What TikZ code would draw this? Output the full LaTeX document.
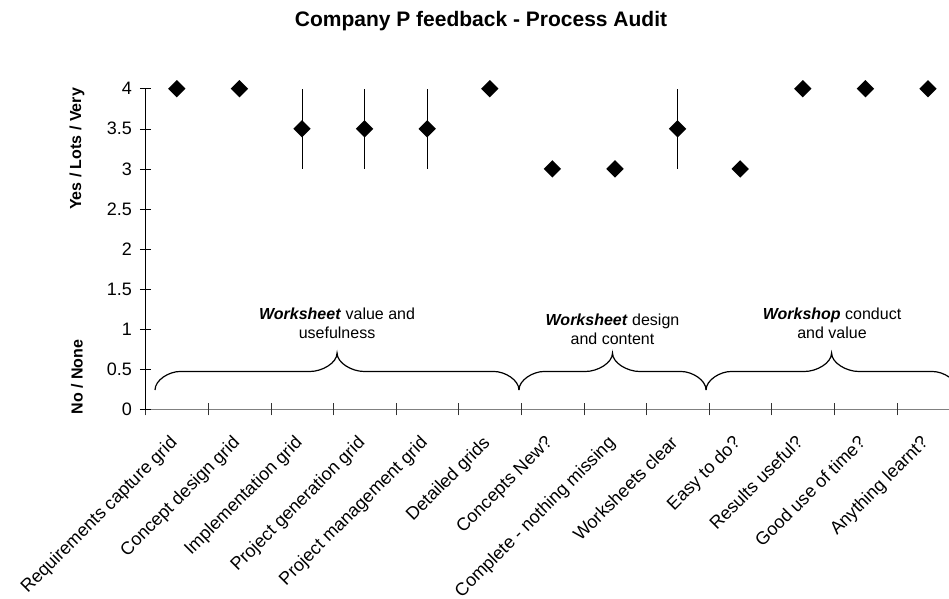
\documentclass[tikz,border=0pt]{standalone}
\usepackage{fontspec}
\setmainfont{Liberation Sans}
\usepackage{tikz}
\usetikzlibrary{shapes.geometric}
\definecolor{inkBlack}{RGB}{0,0,0}
\definecolor{axisGray}{RGB}{128,128,128}

\begin{document}
\begin{tikzpicture}[x=62.6pt, y=80.2pt,
    marker/.style={diamond, fill=inkBlack, minimum width=17.5pt, minimum height=17.5pt, inner sep=0pt},
    ticklabel/.style={anchor=east, inner sep=0pt, font=\fontsize{18}{20}\selectfont},
    catlabel/.style={rotate=45, anchor=north east, inner sep=0pt, font=\fontsize{18}{20}\selectfont},
    axistitle/.style={rotate=90, font=\bfseries\fontsize{16}{19}\selectfont},
    grouplabel/.style={align=center, font=\fontsize{16}{19}\selectfont},
    groupbrace/.style={inkBlack, line width=1.2pt}]
        \clip (-2.3243,-2.3504) rectangle (12.8355,5.1060);
        \node[font=\bfseries\fontsize{21}{24}\selectfont] (title) at (5.36,4.838) {Company P feedback - Process Audit};
        % axes
        \coordinate (origin) at (0,0);
        \coordinate (xend) at (12.84,0);
        \coordinate (ytop) at (0,4);
        \draw[axisGray, line width=1.5pt] (origin) -- (xend);
        \foreach \i in {0,...,12} {
          \draw[inkBlack!80] (\i,0) ++(0,-6pt) -- ++(0,12pt);
        }
        \draw[inkBlack] (origin) -- (ytop);
        \foreach \y [count=\k] in {0,0.5,1,1.5,2,2.5,3,3.5,4} {
          \draw[inkBlack] (0,\y) ++(-5.5pt,0) -- ++(11pt,0);
          \node[ticklabel] (yl\k) at ([xshift=-13.5pt]0,\y) {\y};
        }
        \node[axistitle] (yes) at (-1.094,3.248) {Yes / Lots / Very};
        \node[axistitle] (no) at (-1.094,0.405) {No / None};
        % error bars and scores
        \foreach \i in {3,4,5,9} {
          \draw[inkBlack] (\i-0.5,3) -- (\i-0.5,4);
        }
        \foreach \v [count=\i] in {4,4,3.5,3.5,3.5,4,3,3,3.5,3,4,4,4} {
          \node[marker] (p\i) at (\i-0.5,\v) {};
        }
        % question labels
        \foreach \t [count=\i] in {Requirements capture grid, Concept design grid,
            Implementation grid, Project generation grid, Project management grid,
            Detailed grids, Concepts New?, Complete - nothing missing, Worksheets clear,
            Easy to do?, Results useful?, Good use of time?, Anything learnt?} {
          \node[catlabel] (c\i) at (\i-0.63,-0.31) {\t};
        }
        % group braces
        \foreach \a/\m/\b in {0.152/3.06/5.966, 5.966/7.46/8.955, 8.955/10.96/12.97} {
          \draw[groupbrace] (\a,0.243) .. controls +(0,10pt) and +(-11pt,0) .. ([xshift=25pt]\a,0.474)
            -- ([xshift=-27pt]\m,0.474) .. controls +(12pt,0) and +(0,-10pt) .. (\m,0.704)
            .. controls +(0,-10pt) and +(-12pt,0) .. ([xshift=27pt]\m,0.474)
            -- ([xshift=-25pt]\b,0.474) .. controls +(11pt,0) and +(0,10pt) .. (\b,0.243);
        }
        \node[grouplabel] (g1) at (3.06,1.072) {\textbf{\textit{Worksheet}} value and\\usefulness};
        \node[grouplabel] (g2) at (7.46,1.004) {\textbf{\textit{Worksheet}} design\\and content};
        \node[grouplabel] (g3) at (10.967,1.07) {\textbf{\textit{Workshop}} conduct\\and value};
      \end{tikzpicture}
\end{document}
